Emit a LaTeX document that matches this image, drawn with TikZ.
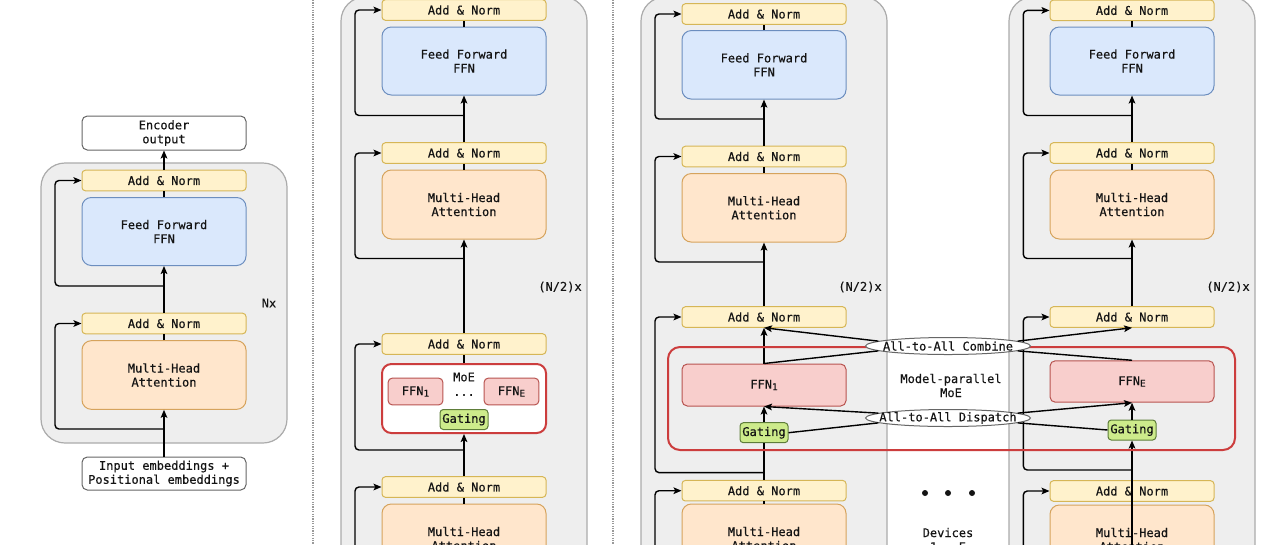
\documentclass[tikz,border=0pt]{standalone}
\usepackage{fontspec}
\setmonofont[FakeBold=0.35]{DejaVu Sans Mono}
\usetikzlibrary{arrows.meta,shapes.geometric}
\definecolor{panelfill}{HTML}{EEEEEE}
\definecolor{paneldraw}{HTML}{ABABAB}
\definecolor{anfill}{HTML}{FFF2CC}
\definecolor{andraw}{HTML}{D6B656}
\definecolor{bluefill}{HTML}{DAE8FC}
\definecolor{bluedraw}{HTML}{6C8EBF}
\definecolor{orfill}{HTML}{FFE6CC}
\definecolor{ordraw}{HTML}{D6A35C}
\definecolor{pinkfill}{HTML}{F8CECC}
\definecolor{pinkdraw}{HTML}{B85450}
\definecolor{greenfill}{HTML}{CDEB8B}
\definecolor{greendraw}{HTML}{5E7D3A}
\definecolor{moered}{HTML}{CC3D3D}
\definecolor{whitedraw}{HTML}{666666}
\definecolor{txt}{HTML}{141414}
\definecolor{sepgray}{HTML}{9A9A9A}
\tikzset{
  xbox/.style={draw, align=center, inner sep=0pt, minimum width=123pt, text=txt, line width=0.75pt},
  xan/.style={xbox, fill=anfill, draw=andraw, rounded corners=2.5pt, minimum height=15.4pt},
  xffn/.style={xbox, fill=bluefill, draw=bluedraw, rounded corners=7pt, minimum height=51pt},
  xmha/.style={xbox, fill=orfill, draw=ordraw, rounded corners=7pt, minimum height=51.5pt},
  xwhite/.style={xbox, fill=white, draw=whitedraw, rounded corners=4pt},
  xexp/.style={xbox, fill=pinkfill, draw=pinkdraw, rounded corners=4pt},
  xsmallexp/.style={xbox, fill=pinkfill, draw=pinkdraw, rounded corners=3pt, minimum width=41pt, minimum height=20pt},
  xgate/.style={xbox, fill=greenfill, draw=greendraw, rounded corners=2.5pt, minimum width=36pt, minimum height=15pt},
  xmoe/.style={xbox, fill=white, draw=moered, line width=1.5pt, rounded corners=7pt, minimum height=51.75pt},
  xmp/.style={draw=moered, line width=1.5pt, rounded corners=9pt, inner sep=0pt, minimum width=425.25pt, minimum height=77.25pt},
  xpanel/.style={fill=panelfill, draw=paneldraw, line width=0.9pt, rounded corners=18pt},
  xell/.style={ellipse, draw=whitedraw, fill=white, line width=0.75pt, inner sep=0pt, minimum width=123.75pt, minimum height=12.75pt},
  xlabel/.style={text=txt, inner sep=0pt, align=center},
  xdot/.style={circle, fill=txt, inner sep=0pt, minimum size=4.5pt},
  xln/.style={line width=1.05pt, draw=black},
  xarr/.style={xln, -{Stealth[length=6pt,width=5pt,inset=1.3pt]}},
  xres/.style={xarr, rounded corners=3pt},
  xsep/.style={draw=sepgray, line width=0.8pt, dash pattern=on 0.9pt off 0.9pt}
}
\newcommand{\sub}[1]{\raisebox{-0.25ex}{\fontsize{7}{8}\selectfont #1}}
\begin{document}
\begin{tikzpicture}[x=0.75pt, y=-0.75pt, font=\ttfamily\fontsize{9}{10.5}\selectfont]
\useasboundingbox (0,0) rectangle (1280,544);
\clip (0,0) rectangle (1280,544);
\fill[white] (0,0) rectangle (1280,544);

% separators
\coordinate (s1a) at (313,0); \coordinate (s1b) at (313,544);
\coordinate (s2a) at (613,0); \coordinate (s2b) at (613,544);
\draw[xsep] (s1a) -- (s1b);
\draw[xsep] (s2a) -- (s2b);

% ================= left panel =================
\draw[xpanel] (41,163) rectangle (287,443);
\node[xwhite, minimum height=25.5pt] (lenc) at (164,133) {Encoder\\output};
\node[xan] (lan1) at (164,180.5) {Add \& Norm};
\node[xffn] (lffn) at (164,231.5) {Feed Forward\\FFN};
\node[xan] (lan2) at (164,323.5) {Add \& Norm};
\node[xmha] (lmha) at (164,375) {Multi-Head\\Attention};
\node[xwhite, minimum height=24.75pt] (linp) at (164,473.5) {Input embeddings +\\Positional embeddings};
\node[xlabel] (lnx) at (269,303) {Nx};
\coordinate (lrx) at (55,0);
\coordinate (lb1) at (164,286);
\coordinate (lb2) at (164,429);
\draw[xarr] (linp.north) -- (lmha.south);
\draw[xln] (lmha.north) -- (lan2.south);
\draw[xarr] (lan2.north) -- (lffn.south);
\draw[xln] (lffn.north) -- (lan1.south);
\draw[xarr] (lan1.north) -- (lenc.south);
\draw[xres] (lb1) -- (lb1 -| lrx) |- (lan1.west);
\draw[xres] (lb2) -- (lb2 -| lrx) |- (lan2.west);

% ================= middle panel =================
\draw[xpanel] (341,-3) rectangle (587,600);
\node[xan] (man1) at (464,10) {Add \& Norm};
\node[xffn] (mffn) at (464,61) {Feed Forward\\FFN};
\node[xan] (man2) at (464,153) {Add \& Norm};
\node[xmha, minimum height=51.75pt] (mmha) at (464,204.5) {Multi-Head\\Attention};
\node[xan] (man3) at (464,344) {Add \& Norm};
\node[xmoe] (mmoe) at (464,398.5) {};
\node[xlabel] (mmoet) at (464,377) {MoE};
\node[xsmallexp] (mf1) at (415.5,391.5) {FFN\sub{1}};
\node[xsmallexp] (mfe) at (511.5,391.5) {FFN\sub{E}};
\node[xlabel] (mdots) at (464,395) {...};
\node[xgate] (mgate) at (464,419.5) {Gating};
\node[xan] (man4) at (464,487) {Add \& Norm};
\node[xmha, minimum height=51.75pt] (mmha4) at (464,538.5) {Multi-Head\\Attention};
\node[xlabel] (mnx) at (560,287) {(N/2)x};
\coordinate (mrx) at (355,0);
\coordinate (mb1) at (464,115.5);
\coordinate (mb2) at (464,258.5);
\coordinate (mb3) at (464,450);
\coordinate (mb4) at (355,600);
\draw[xln] (mmha4.north) -- (man4.south);
\draw[xarr] (man4.north) -- (mmoe.south);
\draw[xln] (mmoe.north) -- (man3.south);
\draw[xarr] (man3.north) -- (mmha.south);
\draw[xln] (mmha.north) -- (man2.south);
\draw[xarr] (man2.north) -- (mffn.south);
\draw[xln] (mffn.north) -- (man1.south);
\draw[xres] (mb1) -- (mb1 -| mrx) |- (man1.west);
\draw[xres] (mb2) -- (mb2 -| mrx) |- (man2.west);
\draw[xres] (mb3) -- (mb3 -| mrx) |- (man3.west);
\draw[xres] (mb4) |- (man4.west);

% ================= right panel 1 =================
\draw[xpanel] (641,-3) rectangle (887,600);
\node[xan] (aan1) at (764,14) {Add \& Norm};
\node[xffn, minimum height=51.4pt] (affn) at (764,64.8) {Feed Forward\\FFN};
\node[xan] (aan2) at (764,156.5) {Add \& Norm};
\node[xmha, minimum height=51.4pt] (amha) at (764,207.8) {Multi-Head\\Attention};
\node[xan] (aan3) at (764,317) {Add \& Norm};
\node[xexp, minimum height=31.5pt] (af1) at (764,385) {FFN\sub{1}};
\node[xgate] (agate) at (764,432.7) {Gating};
\node[xan] (aan4) at (764,490.7) {Add \& Norm};
\node[xmha, minimum height=51.75pt] (amha4) at (764,538.5) {Multi-Head\\Attention};
\node[xlabel] (anx) at (860,287) {(N/2)x};
\coordinate (arx) at (655,0);
\coordinate (ab1) at (764,119);
\coordinate (ab2) at (764,262);
\coordinate (ab3) at (764,472.6);
\coordinate (ab4) at (655,600);
\draw[xln] (amha4.north) -- (aan4.south);
\draw[xln] (aan4.north) -- (agate.south);
\draw[xarr] (agate.north) -- (af1.south);
\draw[xarr] (af1.north) -- (aan3.south);
\draw[xarr] (aan3.north) -- (amha.south);
\draw[xln] (amha.north) -- (aan2.south);
\draw[xarr] (aan2.north) -- (affn.south);
\draw[xln] (affn.north) -- (aan1.south);
\draw[xres] (ab1) -- (ab1 -| arx) |- (aan1.west);
\draw[xres] (ab2) -- (ab2 -| arx) |- (aan2.west);
\draw[xres] (ab3) -- (ab3 -| arx) |- (aan3.west);
\draw[xres] (ab4) |- (aan4.west);

% ================= right panel 2 =================
\draw[xpanel] (1009,-3) rectangle (1255,600);
\node[xan] (ban1) at (1132,10.4) {Add \& Norm};
\node[xffn] (bffn) at (1132,61) {Feed Forward\\FFN};
\node[xan] (ban2) at (1132,153) {Add \& Norm};
\node[xmha, minimum height=51.75pt] (bmha) at (1132,204.5) {Multi-Head\\Attention};
\node[xan] (ban3) at (1132,317) {Add \& Norm};
\node[xexp, minimum height=31.1pt] (bfe) at (1132,381.5) {FFN\sub{E}};
\node[xgate] (bgate) at (1132,430) {Gating};
\node[xan] (ban4) at (1132,491) {Add \& Norm};
\node[xmha, minimum height=51.75pt] (bmha4) at (1132,539.5) {Multi-Head\\Attention};
\node[xlabel] (bnx) at (1228,287) {(N/2)x};
\coordinate (brx) at (1023.3,0);
\coordinate (bb1) at (1132,115.5);
\coordinate (bb2) at (1132,258.5);
\coordinate (bb3) at (1132,470);
\coordinate (bb4) at (1023.3,600);
\coordinate (bin) at (1132,600);
\draw[xarr] (bin) -- (bgate.south);
\draw[xarr] (bgate.north) -- (bfe.south);
\draw[xarr] (ban3.north) -- (bmha.south);
\draw[xln] (bmha.north) -- (ban2.south);
\draw[xarr] (ban2.north) -- (bffn.south);
\draw[xln] (bffn.north) -- (ban1.south);
\draw[xres] (bb1) -- (bb1 -| brx) |- (ban1.west);
\draw[xres] (bb2) -- (bb2 -| brx) |- (ban2.west);
\draw[xres] (bb3) -- (bb3 -| brx) |- (ban3.west);
\draw[xres] (bb4) |- (ban4.west);

% ================= model-parallel MoE =================
\node[xmp] (mp) at (951.5,398.5) {};
\node[xlabel] (mpt) at (951,385.5) {Model-parallel\\MoE};
\node[xell] (comb) at (948,346) {};
\node[xlabel] (combt) at (comb.center) {All-to-All Combine};
\node[xell] (disp) at (948,418) {};
\node[xlabel] (dispt) at (disp.center) {All-to-All Dispatch};
\draw[xarr] (comb.176) -- (aan3.south);
\draw[xln] (af1.north) -- (comb.184);
\draw[xarr] (comb.4) -- (ban3.south);
\draw[xln] (comb.356) -- (bfe.north);
\draw[xarr] (disp.176) -- (af1.south);
\draw[xln] (agate.east) -- (disp.184);
\draw[xarr] (disp.4) -- (bfe.south);
\draw[xln] (disp.356) -- (bgate.west);

% devices
\node[xdot] (d1) at (925,493) {};
\node[xdot] (d2) at (948,493) {};
\node[xdot] (d3) at (972,493) {};
\node[xlabel] (dev) at (948,539.5) {Devices\\1 - E};
\end{tikzpicture}
\end{document}
